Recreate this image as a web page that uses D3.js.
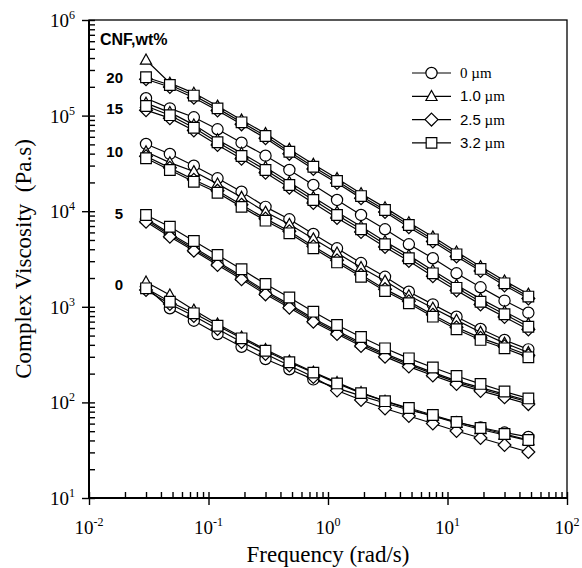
<!DOCTYPE html>
<html>
<head>
<meta charset="utf-8">
<script src="https://cdn.jsdelivr.net/npm/d3@7"></script>
<style>
body { margin: 0; background: #fff; }
</style>
</head>
<body>
<div id="chart"></div>
<script>
// frequencies (rad/s), same for every curve
const freq = [0.03, 0.0475, 0.0754, 0.119, 0.189, 0.3, 0.475, 0.754, 1.19, 1.89, 3.0, 4.75, 7.54, 11.9, 18.9, 30.0, 47.5];

const sizeLabels = ["0", "1.0", "2.5", "3.2"];
const cnfLabels = ["20", "15", "10", "5", "0"];
const cnfLabelValues = [2.5e5, 1.2e5, 4.2e4, 9.5e3, 1.7e3];

// complex viscosity (Pa.s)
const cnf20_10 = [3.82e5, 2.19e5, 1.72e5, 1.26e5, 9.0e4, 6.5e4, 4.45e4, 3.1e4, 2.2e4, 1.53e4, 1.09e4, 7.6e3, 5.4e3, 3.76e3, 2.64e3, 1.87e3, 1.36e3];
const cnf20_25 = [2.4e5, 1.99e5, 1.54e5, 1.13e5, 8.1e4, 5.8e4, 3.98e4, 2.77e4, 1.97e4, 1.37e4, 9.8e3, 6.8e3, 4.83e3, 3.36e3, 2.37e3, 1.67e3, 1.22e3];
const cnf20_32 = [2.52e5, 2.09e5, 1.62e5, 1.19e5, 8.51e4, 6.12e4, 4.19e4, 2.92e4, 2.07e4, 1.44e4, 1.03e4, 7.17e3, 5.08e3, 3.54e3, 2.49e3, 1.76e3, 1.28e3];

const cnf15_0 = [1.52e5, 1.19e5, 9.6e4, 7.19e4, 5.21e4, 3.81e4, 2.7e4, 1.88e4, 1.31e4, 9.13e3, 6.47e3, 4.51e3, 3.22e3, 2.24e3, 1.6e3, 1.16e3, 868];
const cnf15_10 = [1.35e5, 1.08e5, 8.0e4, 5.6e4, 4.05e4, 2.89e4, 2.01e4, 1.4e4, 9.8e3, 6.9e3, 4.83e3, 3.45e3, 2.4e3, 1.69e3, 1.21e3, 893, 662];
const cnf15_25 = [1.14e5, 9.4e4, 7.0e4, 4.92e4, 3.53e4, 2.52e4, 1.76e4, 1.22e4, 8.5e3, 6.05e3, 4.22e3, 3.01e3, 2.09e3, 1.48e3, 1.06e3, 781, 579];
const cnf15_32 = [1.26e5, 1.01e5, 7.47e4, 5.26e4, 3.78e4, 2.7e4, 1.88e4, 1.31e4, 9.13e3, 6.47e3, 4.51e3, 3.22e3, 2.24e3, 1.58e3, 1.13e3, 835, 619];

const cnf10_0 = [5.05e4, 3.97e4, 2.99e4, 2.21e4, 1.6e4, 1.11e4, 8.23e3, 5.78e3, 4.09e3, 2.87e3, 2.06e3, 1.44e3, 1.06e3, 788, 586, 450, 359];
const cnf10_10 = [4.19e4, 3.22e4, 2.6e4, 1.93e4, 1.4e4, 9.8e3, 7.3e3, 5.15e3, 3.66e3, 2.58e3, 1.86e3, 1.31e3, 970, 725, 542, 417, 333];
const cnf10_25 = [3.76e4, 2.84e4, 2.13e4, 1.64e4, 1.17e4, 8.36e3, 6.16e3, 4.29e3, 3.06e3, 2.16e3, 1.53e3, 1.14e3, 827, 611, 473, 386, 311];
const cnf10_32 = [3.58e4, 2.7e4, 2.03e4, 1.56e4, 1.11e4, 7.96e3, 5.87e3, 4.09e3, 2.91e3, 2.06e3, 1.46e3, 1.09e3, 788, 582, 450, 368, 296];

const cnf5_0 = [8.1e3, 5.65e3, 4.0e3, 2.85e3, 2.02e3, 1.41e3, 1.02e3, 727, 540, 405, 314, 248, 200, 163, 138, 118, 101];
const cnf5_10 = [8.4e3, 5.85e3, 4.17e3, 2.96e3, 2.1e3, 1.46e3, 1.06e3, 754, 561, 420, 325, 256, 206, 168, 143, 122, 104];
const cnf5_25 = [7.77e3, 5.41e3, 3.86e3, 2.74e3, 1.94e3, 1.35e3, 979, 698, 519, 389, 301, 237, 191, 156, 132, 113, 96];
const cnf5_32 = [9.13e3, 6.88e3, 4.88e3, 3.48e3, 2.47e3, 1.73e3, 1.25e3, 889, 645, 483, 368, 289, 232, 189, 156, 130, 110];

const cnf0_0 = [1.61e3, 965, 715, 519, 382, 284, 222, 174, 141, 117, 98.6, 83.3, 72.1, 62.4, 54.6, 48.4, 43.5];
const cnf0_10 = [1.82e3, 1.33e3, 926, 661, 483, 358, 271, 208, 162, 127, 103, 85.3, 72.1, 60.9, 52.1, 45.6, 39.9];
const cnf0_25 = [1.5e3, 1.07e3, 801, 586, 428, 321, 243, 184, 133, 106, 86.4, 72.1, 60.2, 50.2, 42.4, 35.8, 30.3];
const cnf0_32 = [1.56e3, 1.13e3, 855, 634, 468, 347, 263, 205, 158, 125, 103, 87.4, 73.8, 62.4, 54.0, 46.7, 40.4];

// marker index: 0 circle, 1 triangle, 2 diamond, 3 square
const series = [
    {m: 1, v: cnf20_10}, {m: 2, v: cnf20_25}, {m: 3, v: cnf20_32},
    {m: 0, v: cnf15_0}, {m: 1, v: cnf15_10}, {m: 2, v: cnf15_25}, {m: 3, v: cnf15_32},
    {m: 0, v: cnf10_0}, {m: 1, v: cnf10_10}, {m: 2, v: cnf10_25}, {m: 3, v: cnf10_32},
    {m: 0, v: cnf5_0}, {m: 1, v: cnf5_10}, {m: 2, v: cnf5_25}, {m: 3, v: cnf5_32},
    {m: 0, v: cnf0_0}, {m: 1, v: cnf0_10}, {m: 2, v: cnf0_25}, {m: 3, v: cnf0_32}
];

const width = 582, height = 568;
const pLeft = 89, pRight = 567, pTop = 20, pBottom = 498;
const serif = "'Liberation Serif', 'Times New Roman', serif";
const sans = "'Liberation Sans', Arial, sans-serif";

const svg = d3.select("#chart")
    .append("svg")
    .attr("width", width)
    .attr("height", height);

const x = d3.scaleLog().domain([0.01, 100]).range([pLeft, pRight]);
const y = d3.scaleLog().domain([10, 1e6]).range([pBottom, pTop]);

// marker shapes
const shapes = [
    {draw(c, r) { c.moveTo(r, 0); c.arc(0, 0, r, 0, 2 * Math.PI); }},
    {draw(c, r) { c.moveTo(0, -r * 1.05); c.lineTo(r, r * 0.75); c.lineTo(-r, r * 0.75); c.closePath(); }},
    {draw(c, r) { const d = r * 1.15; c.moveTo(0, -d); c.lineTo(d, 0); c.lineTo(0, d); c.lineTo(-d, 0); c.closePath(); }},
    {draw(c, r) { const s = r * 0.95; c.rect(-s, -s, 2 * s, 2 * s); }}
];
const symbol = m => d3.symbol().type(shapes[m]).size(5.6)();

// frame
svg.append("rect")
    .attr("x", pLeft).attr("y", pTop)
    .attr("width", pRight - pLeft).attr("height", pBottom - pTop)
    .attr("fill", "none").attr("stroke", "#000").attr("stroke-width", 1.3);

const majorsX = [0.01, 0.1, 1, 10, 100];
const majorsY = [10, 100, 1e3, 1e4, 1e5, 1e6];
const isMajor = (list, t) => list.some(m => Math.abs(m - t) / t < 1e-9);
const minorsX = x.ticks().filter(t => !isMajor(majorsX, t));
const minorsY = y.ticks().filter(t => !isMajor(majorsY, t));

const gx = svg.append("g").attr("transform", `translate(0, ${pBottom})`);
gx.append("g").call(d3.axisBottom(x).tickValues(majorsX).tickSize(7).tickFormat(""));
gx.append("g").call(d3.axisBottom(x).tickValues(majorsX).tickSize(-6).tickFormat(""));
gx.append("g").call(d3.axisBottom(x).tickValues(minorsX).tickSize(-6).tickFormat(""));

const gy = svg.append("g").attr("transform", `translate(${pLeft}, 0)`);
gy.append("g").call(d3.axisLeft(y).tickValues(majorsY).tickSize(7).tickFormat(""));
gy.append("g").call(d3.axisLeft(y).tickValues(majorsY).tickSize(-6).tickFormat(""));
gy.append("g").call(d3.axisLeft(y).tickValues(minorsY).tickSize(-6).tickFormat(""));

svg.selectAll(".domain").remove();
svg.selectAll(".tick line").attr("stroke-width", 1.4);

// left and bottom axis lines drawn a bit heavier
svg.append("line").attr("x1", pLeft).attr("x2", pLeft).attr("y1", pTop).attr("y2", pBottom)
    .attr("stroke", "#000").attr("stroke-width", 2);
svg.append("line").attr("x1", pLeft).attr("x2", pRight).attr("y1", pBottom).attr("y2", pBottom)
    .attr("stroke", "#000").attr("stroke-width", 2);

// tick labels 10^n
majorsX.forEach(t => {
    const tx = svg.append("text")
        .attr("x", x(t)).attr("y", 534)
        .attr("text-anchor", "middle")
        .attr("font-family", serif).attr("font-size", 19);
    tx.append("tspan").text("10");
    tx.append("tspan").attr("dy", -8).attr("font-size", 12).text(Math.round(Math.log10(t)));
});
majorsY.forEach(t => {
    const ty = svg.append("text")
        .attr("x", 75).attr("y", y(t) + 7)
        .attr("text-anchor", "end")
        .attr("font-family", serif).attr("font-size", 19);
    ty.append("tspan").text("10");
    ty.append("tspan").attr("dy", -8).attr("font-size", 12).text(Math.round(Math.log10(t)));
});

// axis titles
svg.append("text")
    .attr("x", (pLeft + pRight) / 2).attr("y", 562)
    .attr("text-anchor", "middle")
    .attr("font-family", serif).attr("font-size", 23)
    .text("Frequency (rad/s)");
svg.append("text")
    .attr("transform", `translate(31, ${(pTop + pBottom) / 2}) rotate(-90)`)
    .attr("text-anchor", "middle")
    .attr("font-family", serif).attr("font-size", 23)
    .text("Complex Viscosity\u00a0 (Pa.s)");

// curves
const line = d3.line()
    .x((d, i) => x(freq[i]))
    .y(d => y(d));

series.forEach(s => {
    svg.append("path")
        .attr("d", line(s.v))
        .attr("fill", "none")
        .attr("stroke", "#000")
        .attr("stroke-width", 1.2);
    svg.append("g").selectAll("path")
        .data(s.v)
        .enter().append("path")
        .attr("transform", (d, i) => `translate(${x(freq[i])}, ${y(d)})`)
        .attr("d", symbol(s.m))
        .attr("fill", "#fff")
        .attr("stroke", "#000")
        .attr("stroke-width", 1.2);
});

// CNF labels
svg.append("text")
    .attr("x", 100).attr("y", 45)
    .attr("font-family", sans).attr("font-weight", "bold").attr("font-size", 16)
    .text("CNF,wt%");
cnfLabels.forEach((l, i) => {
    svg.append("text")
        .attr("x", 123).attr("y", y(cnfLabelValues[i]) + 5.5)
        .attr("text-anchor", "end")
        .attr("font-family", sans).attr("font-weight", "bold").attr("font-size", 15)
        .text(l);
});

// legend
sizeLabels.forEach((l, i) => {
    const ly = 73 + i * 23.3;
    svg.append("line")
        .attr("x1", 412).attr("x2", 451).attr("y1", ly).attr("y2", ly)
        .attr("stroke", "#000").attr("stroke-width", 1.2);
    svg.append("path")
        .attr("transform", `translate(431.5, ${ly})`)
        .attr("d", symbol(i))
        .attr("fill", "#fff").attr("stroke", "#000").attr("stroke-width", 1.2);
    const t = svg.append("text")
        .attr("x", 460).attr("y", ly + 5)
        .attr("font-size", 15);
    t.append("tspan").attr("font-family", i === 0 ? serif : sans).text(l);
    t.append("tspan").attr("font-family", serif).text(" \u00b5m");
});
</script>
</body>
</html>
